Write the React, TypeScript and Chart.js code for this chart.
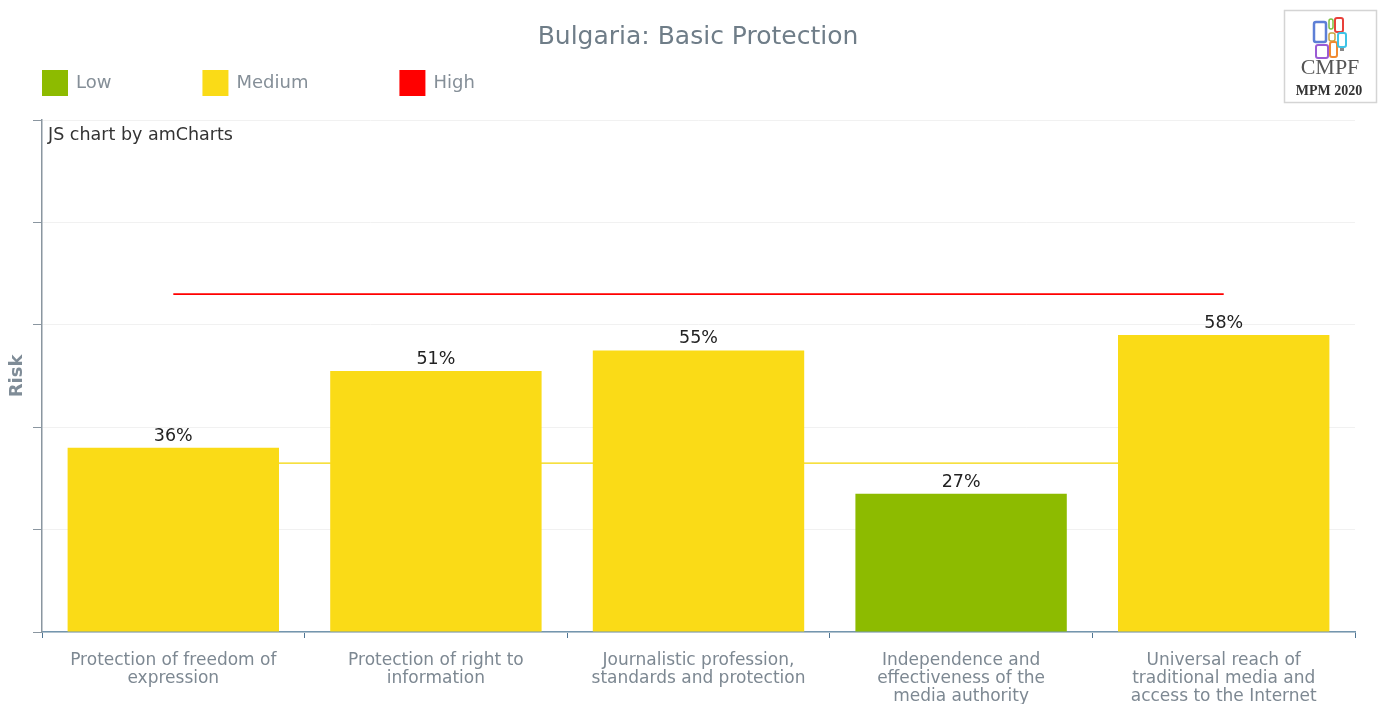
import { useEffect, useRef } from "react";
import { Chart, registerables } from "chart.js";

Chart.register(...registerables);

const chartTitle = "Bulgaria: Basic Protection";
const categories = [
  ["Protection of freedom of", "expression"],
  ["Protection of right to", "information"],
  ["Journalistic profession,", "standards and protection"],
  ["Independence and", "effectiveness of the", "media authority"],
  ["Universal reach of", "traditional media and", "access to the Internet"],
];
const riskValues = [36, 51, 55, 27, 58];
const mediumThreshold = [33, 33, 33, 33, 33];
const highThreshold = [66, 66, 66, 66, 66];
const riskLevels = ["Low", "Medium", "High"];
const levelColors = ["#8dbb00", "#fadb17", "#ff0000"];
const yAxisTitle = "Risk";
const watermark = "JS chart by amCharts";

const FONT = '"DejaVu Sans", Verdana, sans-serif';

function levelIndex(v: number, i: number) {
  if (v < mediumThreshold[i]) return 0;
  if (v <= highThreshold[i]) return 1;
  return 2;
}

const decorPlugin = {
  id: "decor",
  afterDraw(chart: any) {
    const ctx = chart.ctx as CanvasRenderingContext2D;
    const area = chart.chartArea;
    ctx.save();

    // Title
    ctx.font = `25px ${FONT}`;
    ctx.fillStyle = "#6f7d88";
    ctx.textAlign = "center";
    ctx.textBaseline = "middle";
    ctx.fillText(chartTitle, 698, 37);

    // Legend
    ctx.font = `18px ${FONT}`;
    ctx.textAlign = "left";
    let lx = 42;
    riskLevels.forEach((lvl, i) => {
      ctx.fillStyle = levelColors[i];
      ctx.fillRect(lx, 70, 26, 26);
      ctx.fillStyle = "#858f98";
      ctx.fillText(lvl, lx + 34, 83);
      lx = lx + 34 + ctx.measureText(lvl).width + 91;
    });

    // Watermark
    ctx.font = `17.5px ${FONT}`;
    ctx.fillStyle = "#333333";
    ctx.textBaseline = "middle";
    ctx.fillText(watermark, area.left + 6, 135);

    // Y axis title
    ctx.save();
    ctx.translate(17, (area.top + area.bottom) / 2);
    ctx.rotate(-Math.PI / 2);
    ctx.font = `bold 18px ${FONT}`;
    ctx.fillStyle = "#7f8c97";
    ctx.textAlign = "center";
    ctx.textBaseline = "middle";
    ctx.fillText(yAxisTitle, 0, 0);
    ctx.restore();

    // Value labels
    const meta = chart.getDatasetMeta(0);
    ctx.font = `17.5px ${FONT}`;
    ctx.fillStyle = "#222222";
    ctx.textAlign = "center";
    ctx.textBaseline = "alphabetic";
    meta.data.forEach((el: any, i: number) => {
      ctx.fillText(riskValues[i] + "%", el.x, el.y - 7);
    });

    // Logo
    ctx.fillStyle = "#ffffff";
    ctx.fillRect(1284, 10, 92, 92);
    ctx.strokeStyle = "#d4d4d4";
    ctx.lineWidth = 1.5;
    ctx.strokeRect(1284.5, 10.5, 92, 92);
    const rr = (x: number, y: number, w: number, h: number, c: string, lw = 2) => {
      ctx.strokeStyle = c;
      ctx.lineWidth = lw;
      ctx.beginPath();
      (ctx as any).roundRect(x, y, w, h, 2);
      ctx.stroke();
    };
    rr(1314, 22, 12, 20, "#5d7fd6", 2.5);
    rr(1329, 19, 4, 10, "#7cc242", 1.5);
    rr(1335, 18, 8, 14, "#e8403a", 2);
    rr(1316, 45, 12, 13, "#9b5bd4", 2);
    rr(1329, 33, 6, 8, "#c8a440", 1.5);
    rr(1330, 42, 7, 15, "#f08a30", 2);
    rr(1338, 33, 8, 14, "#3fc3e6", 2);
    ctx.fillStyle = "#888";
    ctx.fillRect(1340, 48, 4, 3);
    ctx.fillStyle = "#555555";
    ctx.textAlign = "center";
    ctx.textBaseline = "middle";
    ctx.font = `22px "Liberation Serif", serif`;
    ctx.fillText("CMPF", 1330, 68);
    ctx.font = `bold 14px "Liberation Serif", serif`;
    ctx.fillStyle = "#333333";
    ctx.fillText("MPM 2020", 1329, 91);

    ctx.restore();
  },
};

export default function App() {
  const ref = useRef<HTMLCanvasElement>(null);

  useEffect(() => {
    if (!ref.current) return;
    const barColors = riskValues.map((v, i) => levelColors[levelIndex(v, i)]);
    const chart = new Chart(ref.current, {
      type: "bar",
      data: {
        labels: categories,
        datasets: [
          {
            type: "bar",
            label: "Risk",
            data: riskValues,
            backgroundColor: barColors,
            borderWidth: 0,
            barPercentage: 0.805,
            categoryPercentage: 1,
            order: 1,
          } as any,
          {
            type: "line",
            label: "Medium threshold",
            data: mediumThreshold,
            borderColor: "#f3d600",
            borderWidth: 1.2,
            pointRadius: 0,
            fill: false,
            order: 2,
          },
          {
            type: "line",
            label: "High threshold",
            data: highThreshold,
            borderColor: "#ff0000",
            borderWidth: 1.6,
            pointRadius: 0,
            fill: false,
            order: 0,
          },
        ],
      },
      options: {
        responsive: false,
        animation: false,
        layout: { padding: { top: 120, left: 0, right: 24, bottom: 0 } },
        plugins: {
          legend: { display: false },
          tooltip: { enabled: false },
          title: { display: false },
        },
        scales: {
          x: {
            afterFit: (s: any) => {
              s.height = 72;
            },
            offset: true,
            grid: {
              offset: true,
              drawOnChartArea: false,
              drawTicks: true,
              tickLength: 6,
              tickColor: "#4f7593",
            },
            border: { display: true, color: "#7496ae", width: 1.5 },
            ticks: {
              color: "#7d8892",
              font: { family: FONT, size: 17, lineHeight: 1.06 },
              padding: 14,
              maxRotation: 0,
              autoSkip: false,
            },
          },
          y: {
            min: 0,
            max: 100,
            afterFit: (s: any) => {
              s.width = 42;
            },
            ticks: { display: false, stepSize: 20 },
            grid: {
              color: "#f1f1f1",
              tickColor: "#8a96a0",
              tickLength: 9,
              drawTicks: true,
            },
            border: { display: true, color: "#8a96a0", width: 1.5 },
          },
        },
      },
      plugins: [decorPlugin],
    });
    return () => chart.destroy();
  }, []);

  return (
    <div style={{ position: "fixed", left: 0, top: 0, width: 1379, height: 704, background: "#fff" }}>
      <canvas ref={ref} width={1379} height={704} style={{ display: "block" }} />
    </div>
  );
}
